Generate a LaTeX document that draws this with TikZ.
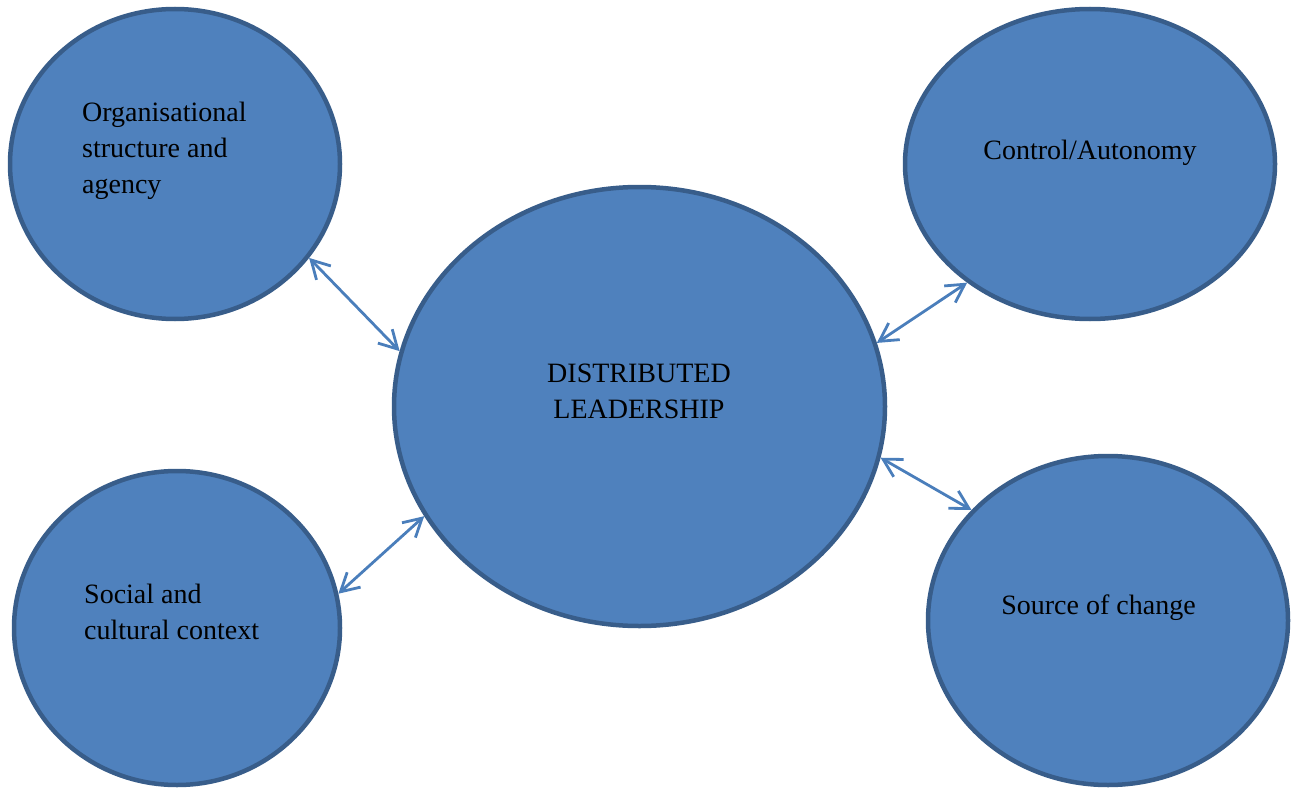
\documentclass[tikz,border=0pt]{standalone}
\usepackage{fontspec}
\setmainfont{Liberation Serif}
\usetikzlibrary{shapes.geometric,arrows.meta}
\definecolor{fillblue}{HTML}{4F81BD}
\definecolor{rimblue}{HTML}{385D8A}
\definecolor{linkblue}{HTML}{4A7EBB}
\begin{document}
\begin{tikzpicture}[x=1pt, y=-1pt, font=\fontsize{28}{35.5}\selectfont, line join=round, line cap=round,
	blob/.style={ellipse, draw=rimblue, fill=fillblue, line width=4.5pt, inner sep=0pt},
	txt/.style={inner sep=0pt, text=black},
	link/.style={{Straight Barb[length=18pt,width=20pt]}-{Straight Barb[length=18pt,width=20pt]}, draw=linkblue, line width=2.8pt}]
			\useasboundingbox (0,0) rectangle (1298,789);
			\node[blob, minimum width=330pt, minimum height=310pt] (org) at (175,164) {};
			\node[blob, minimum width=370pt, minimum height=310pt] (ctrl) at (1090,164) {};
			\node[blob, minimum width=326pt, minimum height=314pt] (soc) at (177,628) {};
			\node[blob, minimum width=360pt, minimum height=329pt] (src) at (1108,620.5) {};
			\node[blob, minimum width=491pt, minimum height=439pt] (dl) at (639.5,406.5) {};
			\node[txt, anchor=base west, align=left] (orgtxt) at (82,193) {Organisational\\structure and\\agency};
			\node[txt, anchor=base] (ctrltxt) at (1090,159) {Control/Autonomy};
			\node[txt, anchor=base west, align=left] (soctxt) at (84,639) {Social and\\cultural context};
			\node[txt, anchor=base] (srctxt) at (1098.5,614) {Source of change};
			\node[txt, anchor=base, align=center] (dltxt) at (639,418) {DISTRIBUTED\\LEADERSHIP};
			\draw[link] (org.-35.9) -- (dl.167);
			\draw[link] (dl.15.6) -- (ctrl.-136.6);
			\draw[link] (soc.12.1) -- (dl.-153);
			\draw[link] (dl.-12.2) -- (src.141.4);
\end{tikzpicture}
\end{document}
